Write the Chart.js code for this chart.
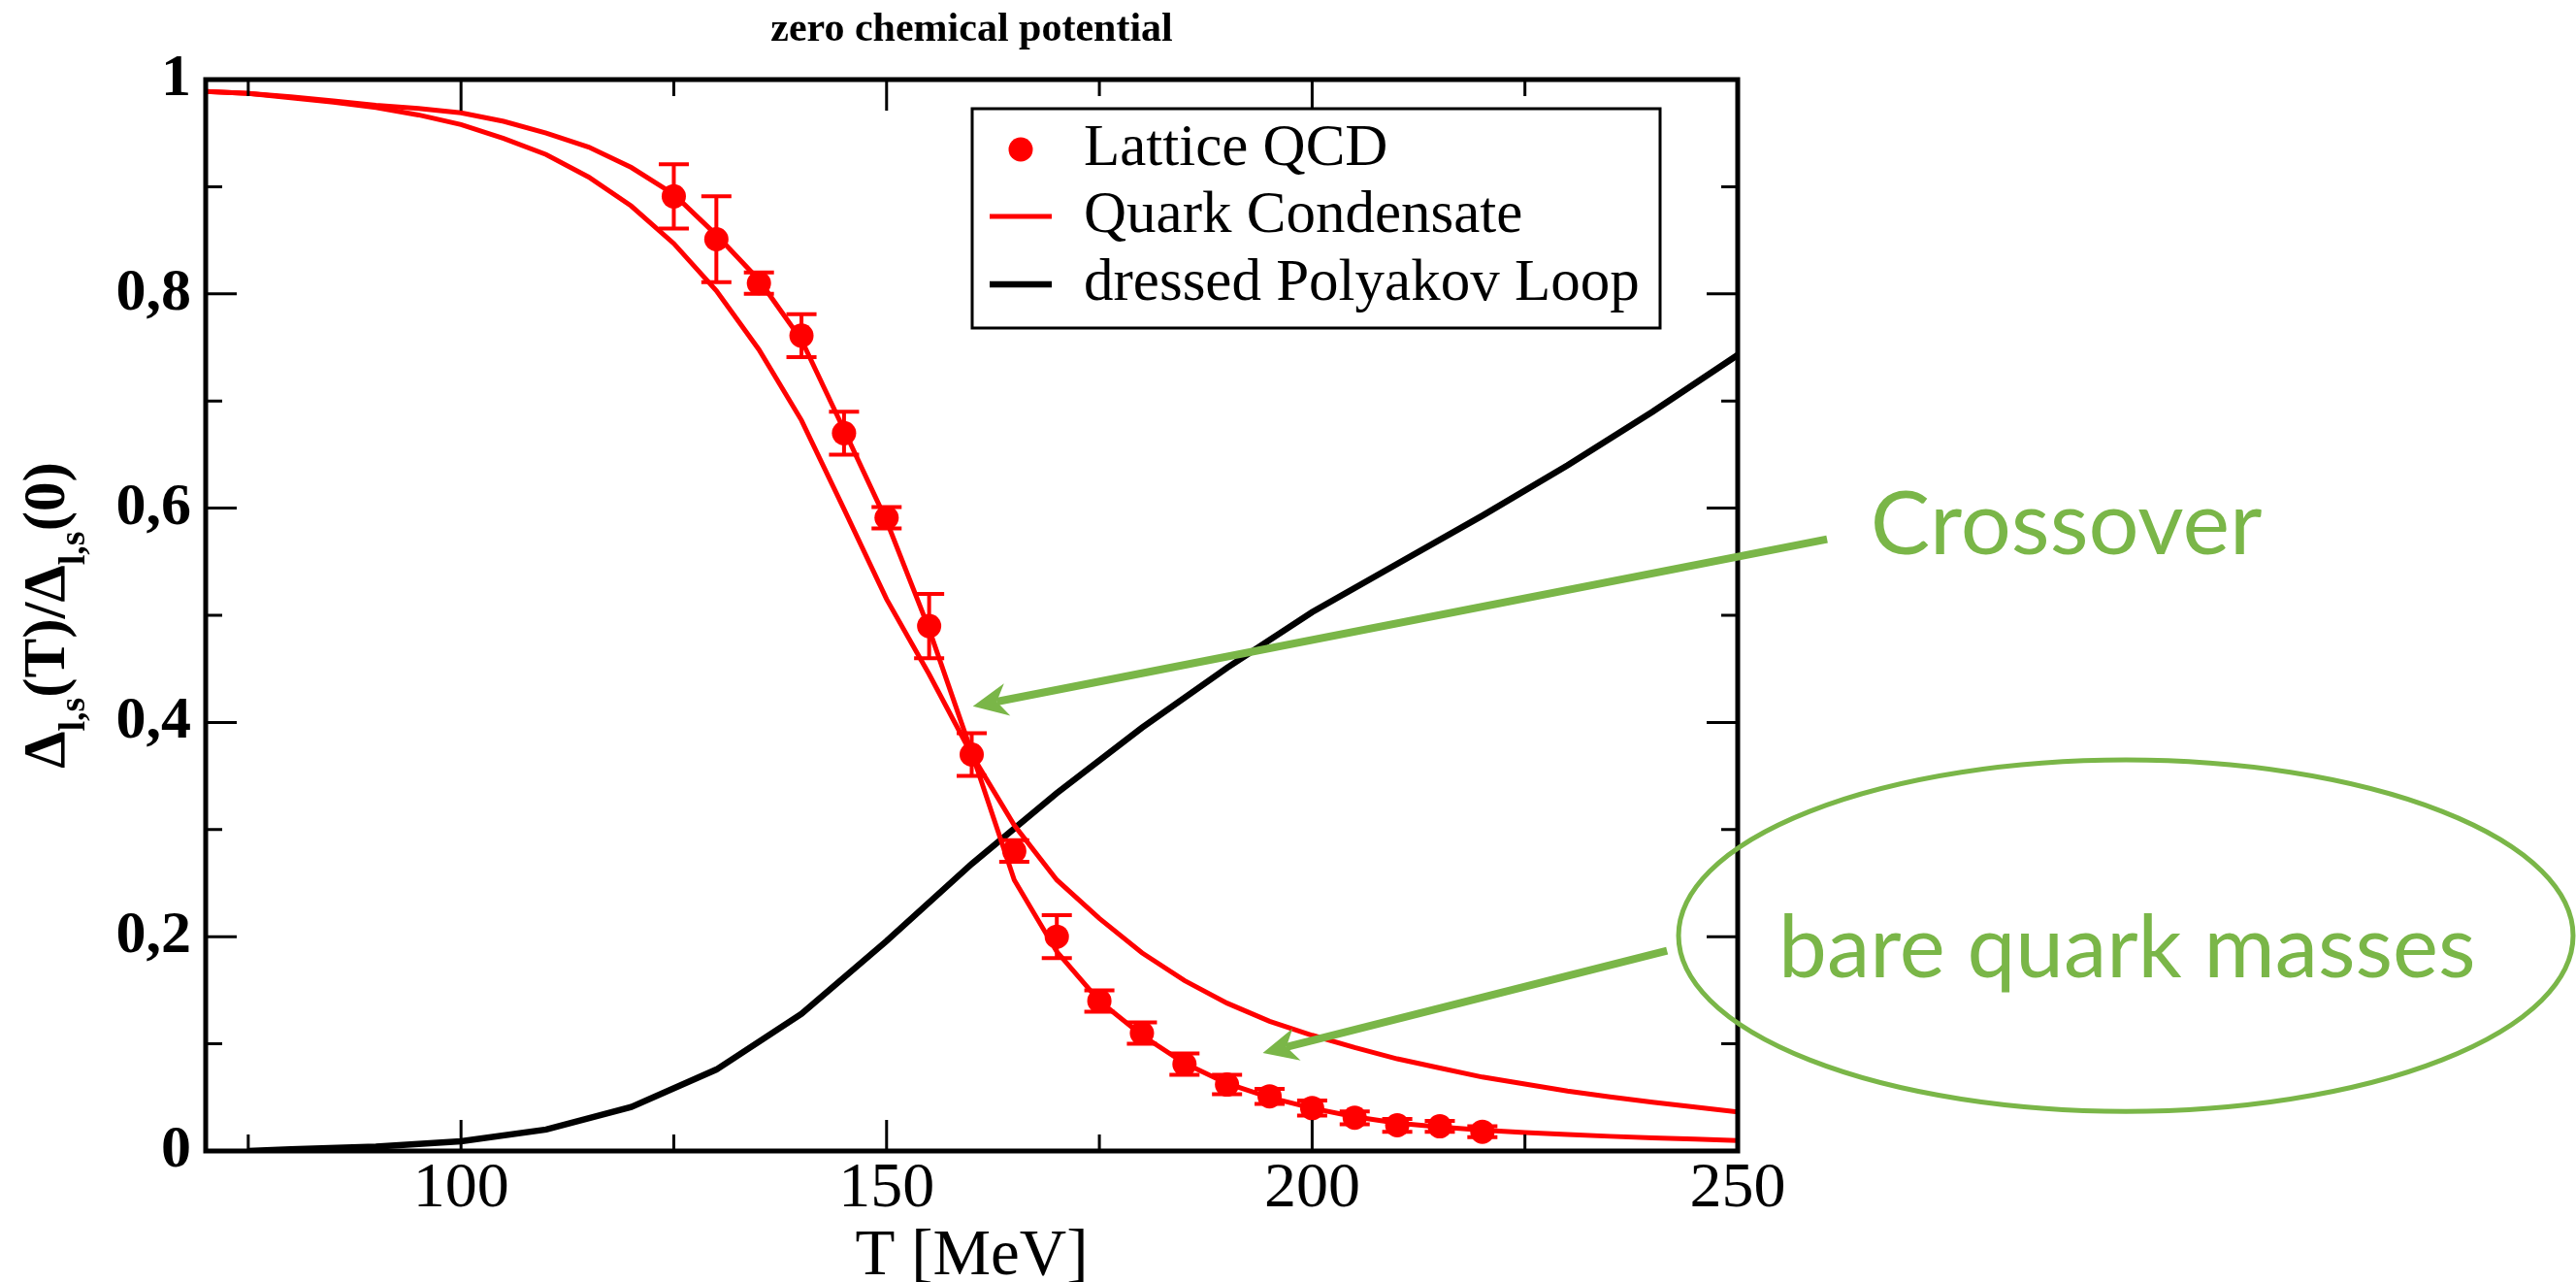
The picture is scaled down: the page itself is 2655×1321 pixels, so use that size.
<!DOCTYPE html>
<html>
<head>
<meta charset="utf-8">
<title>zero chemical potential</title>
<script src="https://cdn.jsdelivr.net/npm/chart.js@4.4.1/dist/chart.umd.min.js"></script>
<style>
  html, body { margin: 0; padding: 0; background: #fff; overflow: hidden; }
  #wrap { width: 2655px; height: 1321px; }
  canvas { display: block; }
</style>
</head>
<body>
<div id="wrap"><canvas id="chart" width="2655" height="1321"></canvas></div>
<script>
// ---- data -------------------------------------------------------------
// temperature grid (MeV) of the two condensate model curves
const tempGrid = [70, 75, 80, 85, 90, 95, 100, 105, 110, 115, 120, 125, 130, 135, 140, 145,
  150, 155, 160, 165, 170, 175, 180, 185, 190, 195, 200, 205, 210, 215, 220, 225, 230, 235,
  240, 245, 250];
// condensate with physical (fitted) parameters - runs through the lattice points
const condensateSharp = [0.989, 0.987, 0.984, 0.980, 0.976, 0.973, 0.969, 0.961, 0.950, 0.937,
  0.918, 0.893, 0.855, 0.813, 0.757, 0.673, 0.588, 0.487, 0.372, 0.253, 0.186, 0.140, 0.108,
  0.082, 0.063, 0.050, 0.040, 0.032, 0.026, 0.0225, 0.0195, 0.0172, 0.0153, 0.0137, 0.0122,
  0.011, 0.0098];
// condensate with bare quark masses - smoother crossover
const condensateSmooth = [0.989, 0.987, 0.983, 0.979, 0.974, 0.967, 0.958, 0.945, 0.930, 0.909,
  0.882, 0.847, 0.803, 0.748, 0.682, 0.599, 0.515, 0.445, 0.370, 0.304, 0.253, 0.217, 0.185,
  0.159, 0.138, 0.121, 0.108, 0.0965, 0.086, 0.0775, 0.069, 0.0625, 0.056, 0.0505, 0.0455,
  0.041, 0.0365];
// dressed Polyakov loop
const loopTemps = [75, 80, 90, 100, 110, 120, 130, 140, 150, 160, 170, 180, 190, 200, 210, 220,
  230, 240, 250];
const loopValues = [0.000, 0.0015, 0.004, 0.009, 0.020, 0.041, 0.076, 0.128, 0.196, 0.268, 0.334,
  0.395, 0.451, 0.503, 0.548, 0.593, 0.640, 0.690, 0.743];
// lattice QCD points with their errors
const latticeTemps = [125, 130, 135, 140, 145, 150, 155, 160, 165, 170, 175, 180, 185, 190, 195,
  200, 205, 210, 215, 220];
const latticeValues = [0.891, 0.851, 0.810, 0.761, 0.670, 0.591, 0.490, 0.370, 0.280, 0.200,
  0.140, 0.110, 0.081, 0.062, 0.051, 0.040, 0.031, 0.024, 0.023, 0.018];
const latticeErrors = [0.03, 0.04, 0.01, 0.02, 0.02, 0.01, 0.03, 0.02, 0.01, 0.02, 0.01, 0.01,
  0.01, 0.009, 0.007, 0.007, 0.006, 0.006, 0.005, 0.005];
// tick positions
const xMajorTicks = [100, 150, 200, 250];
const xMinorTicks = [75, 125, 175, 225];
const yMajorTicks = [0, 0.2, 0.4, 0.6, 0.8, 1];
const yMinorTicks = [0.1, 0.3, 0.5, 0.7, 0.9];

// ---- styling ----------------------------------------------------------
const SERIF = '"Liberation Serif", "Times New Roman", serif';
const SANS = 'Lato, "Open Sans", sans-serif';
const RED = '#ff0000';
const GREEN = '#7ab648';

const pts = (xs, ys) => xs.map((x, i) => ({ x: x, y: ys[i] }));

// annotation geometry, in axis units (T in MeV, ratio)
const notes = {
  crossArrow: { from: [260.5, 0.571], to: [160.14, 0.415] },
  crossText: { at: [265.6, 0.557], text: 'Crossover' },
  bareArrow: { from: [241.7, 0.187], to: [194.2, 0.0915] },
  bareText: { at: [254.8, 0.162], text: 'bare quark masses' },
  ellipse: { center: [295.6, 0.201], rx: 52.55, ry: 0.164 }
};

function drawArrow(ctx, x0, y0, x1, y1) {
  const dx = x0 - x1, dy = y0 - y1, L = Math.hypot(dx, dy);
  const ux = dx / L, uy = dy / L, nx = -uy, ny = ux;
  const head = 36, half = 17, notch = 25;
  ctx.beginPath();
  ctx.moveTo(x0, y0);
  ctx.lineTo(x1 + ux * notch, y1 + uy * notch);
  ctx.stroke();
  ctx.beginPath();
  ctx.moveTo(x1, y1);
  ctx.lineTo(x1 + ux * head + nx * half, y1 + uy * head + ny * half);
  ctx.lineTo(x1 + ux * notch, y1 + uy * notch);
  ctx.lineTo(x1 + ux * head - nx * half, y1 + uy * head - ny * half);
  ctx.closePath();
  ctx.fill();
}

const whiteBackground = {
  id: 'whiteBackground',
  beforeDraw(chart) {
    const ctx = chart.ctx;
    ctx.save();
    ctx.fillStyle = '#fff';
    ctx.fillRect(0, 0, chart.width, chart.height);
    ctx.restore();
  }
};

const errorBars = {
  id: 'errorBars',
  afterDatasetsDraw(chart) {
    const ctx = chart.ctx, xs = chart.scales.x, ys = chart.scales.y;
    chart.data.datasets.forEach((ds) => {
      if (!ds.errors) return;
      ctx.save();
      ctx.strokeStyle = ds.pointBackgroundColor;
      ctx.lineWidth = 4;
      ds.data.forEach((p, i) => {
        const e = ds.errors[i];
        const px = xs.getPixelForValue(p.x);
        const yt = ys.getPixelForValue(p.y + e), yb = ys.getPixelForValue(p.y - e);
        const cap = 15.5;
        ctx.beginPath();
        ctx.moveTo(px, yt); ctx.lineTo(px, yb);
        ctx.moveTo(px - cap, yt); ctx.lineTo(px + cap, yt);
        ctx.moveTo(px - cap, yb); ctx.lineTo(px + cap, yb);
        ctx.stroke();
      });
      ctx.restore();
    });
  }
};

const frameAndDecor = {
  id: 'frameAndDecor',
  afterDraw(chart) {
    const ctx = chart.ctx, ca = chart.chartArea;
    const xs = chart.scales.x, ys = chart.scales.y;
    ctx.save();

    // inward ticks on all four sides
    ctx.strokeStyle = '#000';
    ctx.lineWidth = 3;
    const major = 32, minor = 17;
    const tickX = (v, len) => {
      const px = xs.getPixelForValue(v);
      ctx.beginPath();
      ctx.moveTo(px, ca.bottom); ctx.lineTo(px, ca.bottom - len);
      ctx.moveTo(px, ca.top); ctx.lineTo(px, ca.top + len);
      ctx.stroke();
    };
    const tickY = (v, len) => {
      const py = ys.getPixelForValue(v);
      ctx.beginPath();
      ctx.moveTo(ca.left, py); ctx.lineTo(ca.left + len, py);
      ctx.moveTo(ca.right, py); ctx.lineTo(ca.right - len, py);
      ctx.stroke();
    };
    xMajorTicks.forEach(v => tickX(v, major));
    xMinorTicks.forEach(v => tickX(v, minor));
    yMajorTicks.forEach(v => tickY(v, major));
    yMinorTicks.forEach(v => tickY(v, minor));

    // plot frame
    ctx.lineWidth = 5;
    ctx.strokeRect(ca.left, ca.top, ca.right - ca.left, ca.bottom - ca.top);

    // title
    ctx.fillStyle = '#000';
    ctx.textAlign = 'center';
    ctx.textBaseline = 'alphabetic';
    ctx.font = 'bold 42px ' + SERIF;
    ctx.fillText('zero chemical potential', (ca.left + ca.right) / 2, ca.top - 40);

    // x axis title
    ctx.font = '67px ' + SERIF;
    ctx.fillText('T [MeV]', (ca.left + ca.right) / 2, ca.bottom + 127);

    // y axis title with subscripts
    const mainF = 'bold 61px ' + SERIF, subF = 'bold 38px ' + SERIF;
    const parts = [['\u0394', mainF, 0], ['l,s', subF, 21], ['(T)/\u0394', mainF, 0],
                   ['l,s', subF, 21], ['(0)', mainF, 0]];
    let total = 0;
    parts.forEach(p => { ctx.font = p[1]; p.push(ctx.measureText(p[0]).width); total += p[3]; });
    ctx.translate(66, (ca.top + ca.bottom) / 2);
    ctx.rotate(-Math.PI / 2);
    ctx.textAlign = 'left';
    let cx = -total / 2;
    parts.forEach(p => { ctx.font = p[1]; ctx.fillText(p[0], cx, p[2]); cx += p[3]; });
    ctx.setTransform(1, 0, 0, 1, 0, 0);

    // legend
    const bx = ca.left + 790, by = ca.top + 30, bw = 709, bh = 226;
    ctx.fillStyle = '#fff';
    ctx.fillRect(bx, by, bw, bh);
    ctx.lineWidth = 3;
    ctx.strokeStyle = '#000';
    ctx.strokeRect(bx, by, bw, bh);
    const rows = [42, 111, 181];
    let r = 0;
    ctx.font = '61px ' + SERIF;
    ctx.textAlign = 'left';
    chart.data.datasets.forEach(ds => {
      if (!ds.legendKind) return;
      const ry = by + rows[r++];
      if (ds.legendKind === 'dot') {
        ctx.fillStyle = ds.pointBackgroundColor;
        ctx.beginPath();
        ctx.arc(bx + 50, ry, ds.pointRadius, 0, Math.PI * 2);
        ctx.fill();
      } else {
        ctx.strokeStyle = ds.borderColor;
        ctx.lineWidth = ds.borderWidth;
        ctx.beginPath();
        ctx.moveTo(bx + 18, ry); ctx.lineTo(bx + 82, ry);
        ctx.stroke();
      }
      ctx.fillStyle = '#000';
      ctx.fillText(ds.label, bx + 115, ry + 16);
    });

    // green annotations
    const P = (a) => [xs.getPixelForValue(a[0]), ys.getPixelForValue(a[1])];
    ctx.strokeStyle = GREEN;
    ctx.fillStyle = GREEN;
    ctx.lineWidth = 8;
    ctx.lineCap = 'butt';
    [notes.crossArrow, notes.bareArrow].forEach(a => {
      const f = P(a.from), t = P(a.to);
      drawArrow(ctx, f[0], f[1], t[0], t[1]);
    });
    const c = P(notes.ellipse.center);
    const rx = xs.getPixelForValue(notes.ellipse.center[0] + notes.ellipse.rx) - c[0];
    const ryy = c[1] - ys.getPixelForValue(notes.ellipse.center[1] + notes.ellipse.ry);
    ctx.lineWidth = 5;
    ctx.beginPath();
    ctx.ellipse(c[0], c[1], rx, ryy, 0, 0, Math.PI * 2);
    ctx.stroke();
    ctx.font = '92px ' + SANS;
    let tp = P(notes.crossText.at);
    ctx.fillText(notes.crossText.text, tp[0], tp[1]);
    ctx.font = '89px ' + SANS;
    tp = P(notes.bareText.at);
    ctx.fillText(notes.bareText.text, tp[0], tp[1]);

    ctx.restore();
  }
};

function build() {
  new Chart(document.getElementById('chart'), {
    type: 'scatter',
    data: {
      datasets: [
        {
          label: 'Lattice QCD', legendKind: 'dot',
          data: pts(latticeTemps, latticeValues), errors: latticeErrors,
          showLine: false, pointRadius: 12.5, pointBackgroundColor: RED, pointBorderWidth: 0
        },
        {
          label: 'Quark Condensate', legendKind: 'line',
          data: pts(tempGrid, condensateSharp),
          showLine: true, borderColor: RED, borderWidth: 5, pointRadius: 0, tension: 0
        },
        {
          label: 'Quark Condensate', legendKind: null,
          data: pts(tempGrid, condensateSmooth),
          showLine: true, borderColor: RED, borderWidth: 5, pointRadius: 0, tension: 0
        },
        {
          label: 'dressed Polyakov Loop', legendKind: 'line',
          data: pts(loopTemps, loopValues),
          showLine: true, borderColor: '#000', borderWidth: 6.5, pointRadius: 0, tension: 0
        }
      ]
    },
    options: {
      responsive: false,
      animation: false,
      devicePixelRatio: 1,
      events: [],
      layout: { padding: { top: 82, right: 864, bottom: 0, left: 0 } },
      plugins: { legend: { display: false }, tooltip: { enabled: false }, title: { display: false } },
      scales: {
        x: {
          type: 'linear', min: 70, max: 250,
          grid: { display: false, drawTicks: false },
          border: { display: false },
          afterBuildTicks: s => { s.ticks = xMajorTicks.map(v => ({ value: v })); },
          afterFit: s => { s.height = 135; },
          ticks: {
            color: '#000', padding: 0, maxRotation: 0, autoSkip: false,
            font: { family: SERIF, size: 66 }
          }
        },
        y: {
          type: 'linear', min: 0, max: 1,
          grid: { display: false, drawTicks: false },
          border: { display: false },
          afterBuildTicks: s => { s.ticks = yMajorTicks.map(v => ({ value: v })); },
          afterFit: s => { s.width = 212; },
          ticks: {
            color: '#000', padding: 15, autoSkip: false,
            font: { family: SERIF, size: 62, weight: 'bold' },
            callback: v => (v === 0 ? '0' : v === 1 ? '1' : v.toFixed(1).replace('.', ','))
          }
        }
      }
    },
    plugins: [whiteBackground, errorBars, frameAndDecor]
  });
}

const fontLoads = [
  '66px "Liberation Serif"', 'bold 66px "Liberation Serif"', '92px Lato'
].map(f => document.fonts.load(f));
Promise.all(fontLoads).then(build, build);
</script>
</body>
</html>
